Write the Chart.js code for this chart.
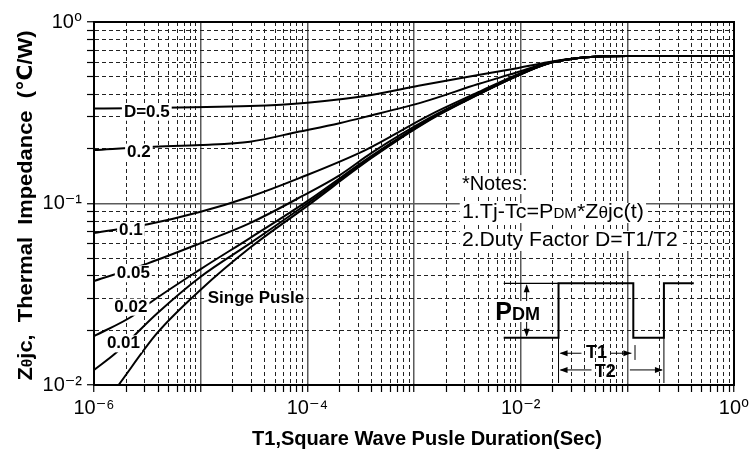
<!DOCTYPE html>
<html>
<head>
<meta charset="utf-8">
<script src="https://cdn.jsdelivr.net/npm/chart.js@4.4.0/dist/chart.umd.min.js"></script>
<style>
  html, body { margin: 0; padding: 0; background: #fff; }
  #chart { display: block; }
</style>
</head>
<body>
<canvas id="chart" width="749" height="449"></canvas>
<script>
// ---- data (t in seconds, Z in C/W) ----
const tSingle = [1.7e-6, 3.9e-6, 1e-5, 2.9e-5, 1e-4, 4e-4, 1.4e-3, 4e-3, 9e-3, 1.8e-2, 3e-2, 6e-2, 0.1, 1];
const zSingle = [0.01, 0.0193, 0.0335, 0.057, 0.097, 0.178, 0.288, 0.398, 0.5, 0.59, 0.625, 0.647, 0.65, 0.65];

const tD001 = [1e-6, 1.6e-6, 3.9e-6, 1e-5, 2.9e-5, 1e-4, 4e-4, 1.4e-3, 4e-3, 9e-3, 1.8e-2, 3e-2, 6e-2, 0.1, 1];
const zD001 = [0.0121, 0.015, 0.0248, 0.0395, 0.0603, 0.1, 0.18, 0.29, 0.399, 0.501, 0.59, 0.625, 0.647, 0.65, 0.65];

const tD002 = [1e-6, 2.3e-6, 3.3e-6, 1e-5, 2.9e-5, 1e-4, 4e-4, 1.4e-3, 4e-3, 9e-3, 1.8e-2, 3e-2, 6e-2, 0.1, 1];
const zD002 = [0.0186, 0.024, 0.0282, 0.0435, 0.0645, 0.103, 0.183, 0.292, 0.4, 0.502, 0.59, 0.625, 0.647, 0.65, 0.65];

const tD005 = [1e-6, 3.2e-6, 1e-5, 2.9e-5, 9e-5, 2e-4, 4e-4, 1.4e-3, 4e-3, 9e-3, 1.8e-2, 3e-2, 6e-2, 0.1, 1];
const zD005 = [0.0374, 0.0468, 0.0605, 0.078, 0.11, 0.143, 0.19, 0.296, 0.403, 0.505, 0.591, 0.625, 0.647, 0.65, 0.65];

const tD01 = [1e-6, 3.2e-6, 1e-5, 2.9e-5, 8.4e-5, 3.5e-4, 1.4e-3, 4e-3, 9e-3, 1.8e-2, 3e-2, 6e-2, 0.1, 1];
const zD01 = [0.0688, 0.0768, 0.09, 0.109, 0.138, 0.197, 0.307, 0.41, 0.51, 0.592, 0.626, 0.647, 0.65, 0.65];

const tD02 = [1e-6, 3.3e-6, 1e-5, 2.9e-5, 8.4e-5, 2e-4, 3.5e-4, 1.25e-3, 4e-3, 9e-3, 1.8e-2, 3e-2, 6e-2, 0.1, 1];
const zD02 = [0.197, 0.205, 0.21, 0.219, 0.249, 0.277, 0.30, 0.364, 0.455, 0.525, 0.596, 0.627, 0.647, 0.65, 0.65];

const tD05 = [1e-6, 2.9e-5, 1e-4, 4e-4, 1.1e-3, 4e-3, 9e-3, 1.8e-2, 3e-2, 6e-2, 0.1, 1];
const zD05 = [0.334, 0.344, 0.359, 0.396, 0.445, 0.51, 0.555, 0.6, 0.628, 0.647, 0.65, 0.65];

const curveLabels = ['D=0.5', '0.2', '0.1', '0.05', '0.02', '0.01', 'Singe Pusle'];

// axis ticks
const xDecades = [-6, -5, -4, -3, -2, -1, 0];
const yDecades = [-2, -1, 0];
const xTickLabels = { '-6': '10\u207B\u2076', '-4': '10\u207B\u2074', '-2': '10\u207B\u00B2', '0': '10\u2070' };
const yTickLabels = { '-2': '10\u207B\u00B2', '-1': '10\u207B\u00B9', '0': '10\u2070' };

const FF = "'Liberation Sans', Arial, 'DejaVu Sans', sans-serif";

function decadeTicks(decades) {
    const out = [];
    decades.forEach((e, i) => {
        if (i === decades.length - 1) { out.push(Math.pow(10, e)); return; }
        for (let m = 1; m <= 9; m++) out.push(m * Math.pow(10, e));
    });
    return out;
}

function isDecade(v) {
    const e = Math.log10(v);
    return Math.abs(e - Math.round(e)) < 1e-9;
}

function pts(ts, zs) {
    return ts.map((t, i) => ({ x: t, y: zs[i] }));
}

function line(label, ts, zs) {
    return {
        label: label,
        data: pts(ts, zs),
        showLine: true,
        borderColor: '#000',
        borderWidth: 2,
        pointRadius: 0,
        cubicInterpolationMode: 'monotone',
        fill: false
    };
}

// ============================================
// TEXT HELPERS
// ============================================
function drawRuns(ctx, parts, x, y, opts = {}) {
    let w = 0;
    parts.forEach(p => { ctx.font = p[1]; w += ctx.measureText(p[0]).width; });
    const s = opts.width ? opts.width / w : 1;
    ctx.save();
    ctx.translate(x, y);
    ctx.scale(s, 1);
    let x0 = opts.align === 'center' ? -w / 2 : 0;
    if (opts.bg) {
        const padL = opts.padL != null ? opts.padL : 2;
        const padR = opts.padR != null ? opts.padR : 2;
        ctx.fillStyle = '#fff';
        ctx.fillRect(x0 - padL, -opts.bg[0], w + padL + padR, opts.bg[0] + opts.bg[1]);
    }
    ctx.fillStyle = '#000';
    ctx.textAlign = 'left';
    ctx.textBaseline = 'alphabetic';
    parts.forEach(p => {
        ctx.font = p[1];
        ctx.fillText(p[0], x0, p[2] || 0);
        x0 += ctx.measureText(p[0]).width;
    });
    ctx.restore();
}

function arrowHead(ctx, x, y, dir) {
    const L = 8, H = 3;
    ctx.beginPath();
    ctx.moveTo(x, y);
    if (dir === 'l') { ctx.lineTo(x + L, y - H); ctx.lineTo(x + L, y + H); }
    if (dir === 'r') { ctx.lineTo(x - L, y - H); ctx.lineTo(x - L, y + H); }
    if (dir === 'u') { ctx.lineTo(x - H, y + L); ctx.lineTo(x + H, y + L); }
    if (dir === 'd') { ctx.lineTo(x - H, y - L); ctx.lineTo(x + H, y - L); }
    ctx.closePath();
    ctx.fill();
}

function seg(ctx, x1, y1, x2, y2, w) {
    ctx.lineWidth = w;
    ctx.beginPath();
    ctx.moveTo(x1, y1);
    ctx.lineTo(x2, y2);
    ctx.stroke();
}

// ============================================
// ANNOTATION PLUGIN
// ============================================
const annotations = {
    id: 'annotations',
    afterDatasetsDraw(chart) {
        const { ctx, chartArea: a, scales: { x, y } } = chart;
        const X = lt => x.getPixelForValue(Math.pow(10, lt));
        const Y = lv => y.getPixelForValue(Math.pow(10, lv));
        ctx.save();

        // plot frame
        ctx.strokeStyle = '#000';
        ctx.lineWidth = 2;
        ctx.strokeRect(a.left, a.top, a.right - a.left, a.bottom - a.top);

        // curve labels (log10 t, log10 Z of baseline)
        const labelPos = [[-5.505, -0.522], [-5.579, -0.742], [-5.654, -1.174], [-5.631, -1.412],
                          [-5.654, -1.596], [-5.724, -1.798], [-4.482, -1.55]];
        curveLabels.forEach((txt, i) => {
            const p = labelPos[i];
            drawRuns(ctx, [[txt, `bold 17px ${FF}`]], X(p[0]), Y(p[1]),
                { align: 'center', bg: [13, 4], padL: 2, padR: 2 });
        });

        // notes
        const nf = `20px ${FF}`, ns = `14px ${FF}`;
        drawRuns(ctx, [['*Notes:', nf]], X(-2.551), Y(-0.926), { bg: [15, 4] });
        drawRuns(ctx, [['1.Tj-Tc=P', nf], ['DM', ns], ['*Z', nf], ['\u03B8', `16px ${FF}`], ['jc(t)', nf]],
            X(-2.551), Y(-1.08), { bg: [15, 5], width: 182 });
        drawRuns(ctx, [['2.Duty Factor D=T1/T2', nf]], X(-2.551), Y(-1.234), { bg: [15, 5], width: 216 });

        // pulse diagram
        ctx.strokeStyle = '#000';
        ctx.fillStyle = '#000';
        const xRef = X(-2.159), xR1 = X(-1.645), xF = X(-0.944), xR2 = X(-0.657), xEnd = X(-0.377);
        const yTop = Y(-1.44), yBot = Y(-1.739), yLow = Y(-1.989);
        seg(ctx, xRef, yTop, xR1, yTop, 1.3);
        ctx.lineWidth = 2;
        ctx.beginPath();
        ctx.moveTo(xRef, yBot);
        ctx.lineTo(xR1, yBot);
        ctx.lineTo(xR1, yTop);
        ctx.lineTo(xF, yTop);
        ctx.lineTo(xF, yBot);
        ctx.lineTo(xR2, yBot);
        ctx.lineTo(xR2, yTop);
        ctx.lineTo(xEnd, yTop);
        ctx.stroke();
        seg(ctx, xR1, yBot, xR1, yLow, 1);
        seg(ctx, xR2, yBot, xR2, yLow, 1);

        // P_DM arrow
        const xP = X(-1.944);
        seg(ctx, xP, yTop + 2, xP, yBot - 2, 1);
        arrowHead(ctx, xP, yTop + 1, 'u');
        arrowHead(ctx, xP, yBot - 1, 'd');
        drawRuns(ctx, [['P', `bold 25px ${FF}`], ['DM', `bold 18px ${FF}`]], X(-2.028), Y(-1.642),
            { align: 'center', bg: [19, 2], padL: 1, padR: 1 });

        // T1 arrow
        const yT1 = Y(-1.825);
        seg(ctx, xR1 + 2, yT1, X(-1.43), yT1, 1);
        seg(ctx, X(-1.159), yT1, X(-0.962), yT1, 1);
        arrowHead(ctx, xR1 + 1, yT1, 'l');
        arrowHead(ctx, X(-0.962), yT1, 'r');
        seg(ctx, X(-0.928), Y(-1.78), X(-0.928), Y(-1.862), 1);
        drawRuns(ctx, [['T1', `bold 18px ${FF}`]], X(-1.29), Y(-1.851), { align: 'center' });

        // T2 arrow
        const yT2 = Y(-1.917);
        seg(ctx, xR1 + 2, yT2, X(-1.336), yT2, 1);
        seg(ctx, X(-0.976), yT2, xR2 - 2, yT2, 1);
        arrowHead(ctx, xR1 + 1, yT2, 'l');
        arrowHead(ctx, xR2 - 1, yT2, 'r');
        drawRuns(ctx, [['T2', `bold 18px ${FF}`]], X(-1.206), Y(-1.956), { align: 'center' });

        // axis titles
        ctx.save();
        ctx.translate(32, (a.top + a.bottom) / 2 + 2);
        ctx.rotate(-Math.PI / 2);
        drawRuns(ctx, [['Z', `bold 21px ${FF}`], ['\u03B8', `bold 15px ${FF}`],
                       ['jc,  Thermal  Impedance  (\u2103/W)', `bold 21px ${FF}`]],
            0, 0, { align: 'center', width: 350 });
        ctx.restore();
        drawRuns(ctx, [['T1,Square Wave Pusle Duration(Sec)', `bold 20px ${FF}`]],
            427, 445, { align: 'center', width: 350 });

        ctx.restore();
    }
};

// ============================================
// CHART
// ============================================
const gridColor = c => (c.tick && isDecade(c.tick.value)) ? '#5a5a5a' : '#222';
const gridWidth = c => (c.tick && isDecade(c.tick.value)) ? 1.5 : 1;
const gridDash = c => (c.tick && !isDecade(c.tick.value)) ? [4, 3] : [];

new Chart(document.getElementById('chart'), {
    type: 'scatter',
    data: {
        datasets: [
            line('Single Pulse', tSingle, zSingle),
            line('D=0.01', tD001, zD001),
            line('D=0.02', tD002, zD002),
            line('D=0.05', tD005, zD005),
            line('D=0.1', tD01, zD01),
            line('D=0.2', tD02, zD02),
            line('D=0.5', tD05, zD05)
        ]
    },
    options: {
        responsive: false,
        animation: false,
        layout: { padding: { top: 22, right: 15, left: 0, bottom: 0 } },
        plugins: {
            legend: { display: false },
            tooltip: { enabled: false }
        },
        scales: {
            x: {
                type: 'logarithmic',
                min: 1e-6,
                max: 1,
                afterBuildTicks: s => { s.ticks = decadeTicks(xDecades).map(v => ({ value: v })); },
                afterFit: s => { s.height = 64; s.paddingLeft = 0; s.paddingRight = 0; },
                ticks: {
                    autoSkip: false,
                    maxRotation: 0,
                    padding: 4,
                    color: '#000',
                    font: { family: FF, size: 20 },
                    callback: v => isDecade(v) ? (xTickLabels[Math.round(Math.log10(v))] || '') : ''
                },
                grid: { color: gridColor, lineWidth: gridWidth, tickLength: 7, tickColor: '#000', tickWidth: 1.2 },
                border: { color: '#000', width: 2, dash: gridDash }
            },
            y: {
                type: 'logarithmic',
                min: 0.01,
                max: 1,
                afterBuildTicks: s => { s.ticks = decadeTicks(yDecades).map(v => ({ value: v })); },
                afterFit: s => { s.width = 94; s.paddingTop = 0; s.paddingBottom = 0; },
                ticks: {
                    autoSkip: false,
                    padding: 5,
                    color: '#000',
                    font: { family: FF, size: 20 },
                    callback: v => isDecade(v) ? (yTickLabels[Math.round(Math.log10(v))] || '') : ''
                },
                grid: { color: gridColor, lineWidth: gridWidth, tickLength: 7, tickColor: '#000', tickWidth: 1.2 },
                border: { color: '#000', width: 2, dash: gridDash }
            }
        }
    },
    plugins: [annotations]
});
</script>
</body>
</html>
